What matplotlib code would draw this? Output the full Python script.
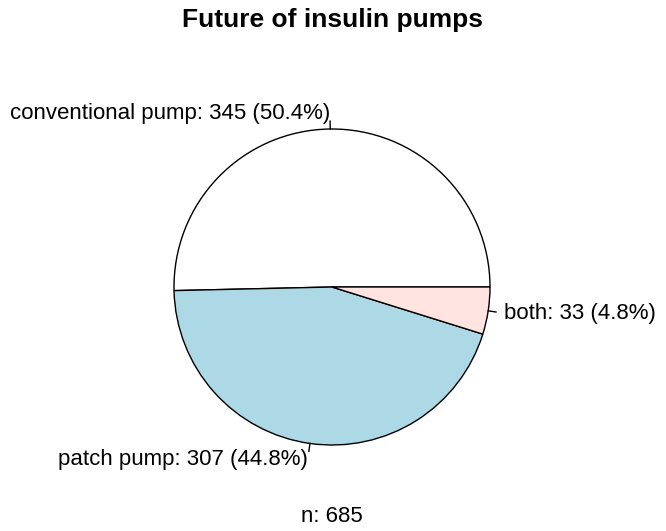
import numpy as np
import matplotlib
matplotlib.use('Agg')
from matplotlib import pyplot as plt

plt.rcParams['font.family'] = ['Liberation Sans', 'DejaVu Sans']

categories = ['conventional pump', 'patch pump', 'both']
counts = [345, 307, 33]
colors = ['#FFFFFF', '#ADD8E6', '#FFE4E1']

W, H = 666, 531
R_PX = 158.0
CX, CY = 332.0, 531 - 287.0

fig = plt.figure(figsize=(W / 100, H / 100), dpi=100)
ax = fig.add_axes([0, 0, 1, 1])
ax.axis('off')

total = sum(counts)
ax.pie(counts, colors=colors, startangle=0, counterclock=True, radius=1.0,
       wedgeprops=dict(edgecolor='black', linewidth=1.0))
ax.set_xlim(-CX / R_PX, (W - CX) / R_PX)
ax.set_ylim(-CY / R_PX, (H - CY) / R_PX)
ax.set_aspect('auto')

# labels like R's pie(): tick from 1.0 to 1.05, text at 1.1
cum = np.cumsum([0] + counts) / total
for i, (name, n) in enumerate(zip(categories, counts)):
    mid = 2 * np.pi * (cum[i] + cum[i + 1]) / 2
    c, s = np.cos(mid), np.sin(mid)
    ax.plot([c, 1.05 * c], [s, 1.05 * s], color='black', lw=1.0)
    label = '{}: {} ({:.1f}%)'.format(name, n, 100.0 * n / total)
    ax.text(1.1 * c, 1.1 * s, label, ha='right' if c < 0 else 'left',
            va='center', fontsize=16)

fig.text(CX / W, 1 - 20 / H, 'Future of insulin pumps', ha='center', va='center',
         fontsize=19, fontweight='bold')
fig.text(CX / W, 1 - 516 / H, 'n: {}'.format(total), ha='center', va='center',
         fontsize=16)

fig.savefig('out.png', dpi=100)
